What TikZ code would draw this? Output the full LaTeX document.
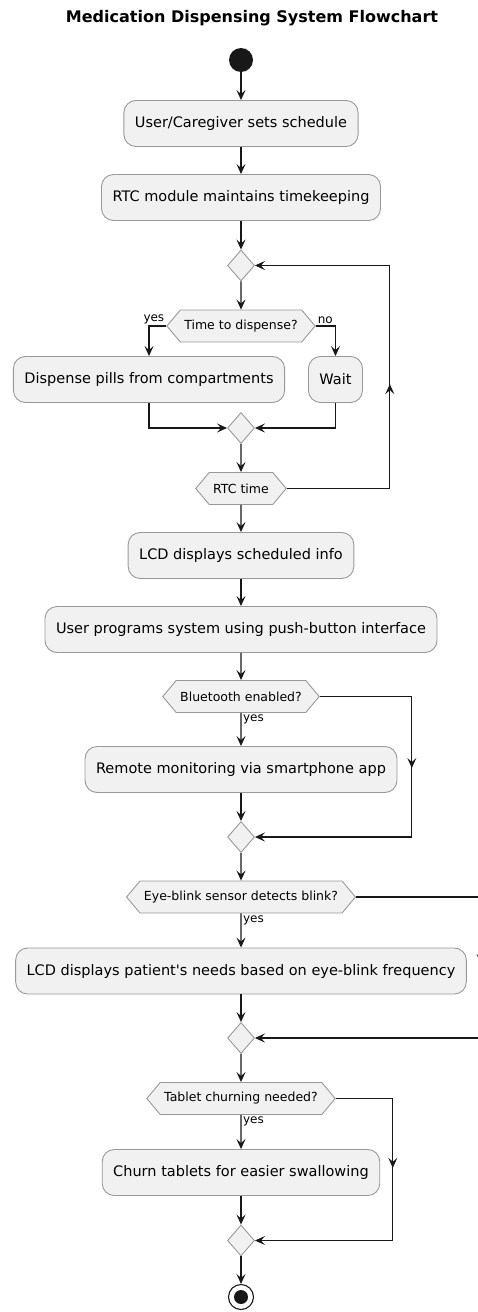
\documentclass[tikz,border=0pt]{standalone}
\usepackage{fontspec}
\setmainfont{DejaVu Sans}
\usetikzlibrary{shapes.geometric, shapes.symbols, arrows.meta, positioning, decorations.markings}
\definecolor{linec}{HTML}{181818}
\definecolor{boxfill}{HTML}{F1F1F1}
\definecolor{boxline}{HTML}{999999}
\tikzstyle{action} = [rectangle, rounded corners=12pt, minimum height=46pt, inner xsep=11pt, text centered, draw=boxline, line width=0.9pt, fill=boxfill, font=\fontsize{14.5}{17}\selectfont]
\tikzstyle{decision} = [signal, signal to=west and east, signal pointer angle=100, minimum height=32pt, inner xsep=4pt, draw=boxline, line width=0.9pt, fill=boxfill, font=\fontsize{12.5}{15}\selectfont]
\tikzstyle{merge} = [diamond, minimum width=27pt, minimum height=31pt, inner sep=0pt, draw=boxline, line width=0.9pt, fill=boxfill]
\tikzstyle{arrow} = [line width=1.1pt, draw=linec, -{Stealth[length=10pt, width=9pt, inset=4pt]}]
\tikzstyle{lbl} = [font=\fontsize{12}{14}\selectfont, inner sep=1.5pt]
\tikzset{midarrow/.style={postaction={decorate}, decoration={markings, mark=at position #1 with {\arrow{Stealth[length=10pt, width=9pt, inset=4pt]}}}}}

\begin{document}
\begin{tikzpicture}[x=1pt, y=-1pt]
    \useasboundingbox (0,0) rectangle (478,1312);
    \node (title) [font=\fontsize{16}{19}\selectfont\bfseries] at (252,18) {Medication Dispensing System Flowchart};
    \node (start) [circle, fill=linec, minimum size=24pt, inner sep=0pt] at (241,60) {};

    \node (sched) [action] at (241,123.5) {User/Caregiver sets schedule};
    \node (rtcmod) [action] at (241,197.5) {RTC module maintains timekeeping};
    \node (loop1) [merge] at (241,265.5) {};
    \node (timeq) [decision] at (241,326) {Time to dispense?};
    \node (dispense) [action] at (149,379.5) {Dispense pills from compartments};
    \node (wait) [action, right=23pt of dispense] {Wait};
    \node (join1) [merge] at (241,428) {};
    \node (rtctime) [decision] at (241,488.5) {RTC time};
    \node (lcdinfo) [action] at (241,555.5) {LCD displays scheduled info};
    \node (prog) [action] at (241,629.5) {User programs system using push-button interface};
    \node (btq) [decision] at (241,696.5) {Bluetooth enabled?};
    \node (remote) [action] at (241,769.5) {Remote monitoring via smartphone app};
    \node (join2) [merge] at (241,837) {};
    \node (blinkq) [decision] at (241,897) {Eye-blink sensor detects blink?};
    \node (lcdneeds) [action] at (241,971) {LCD displays patient\textquotesingle s needs based on eye-blink frequency};
    \node (join3) [merge] at (241,1038) {};
    \node (churnq) [decision] at (241,1098.5) {Tablet churning needed?};
    \node (churn) [action] at (241,1172.5) {Churn tablets for easier swallowing};
    \node (join4) [merge] at (241,1240.5) {};
    \node (stop) [circle, draw=linec, line width=1.1pt, minimum size=25pt, inner sep=0pt] at (241,1297) {};
    \fill[linec] (stop.center) circle (7pt);

    \draw [arrow] (start) -- (sched);
    \draw [arrow] (sched) -- (rtcmod);
    \draw [arrow] (rtcmod) -- (loop1);
    \draw [arrow] (loop1) -- (timeq);
    \draw [arrow] (timeq.west) -| (dispense.north) node [lbl, pos=0, anchor=south east] {yes};
    \draw [arrow] (timeq.east) -| (wait.north) node [lbl, pos=0, anchor=south west] {no};
    \draw [arrow] (dispense.south) |- (join1.west);
    \draw [arrow] (wait.south) |- (join1.east);
    \draw [arrow] (join1) -- (rtctime);
    \draw [arrow, midarrow=0.45] (rtctime.east) -- ++(103,0) |- (loop1.east);
    \draw [arrow] (rtctime) -- (lcdinfo);
    \draw [arrow] (lcdinfo) -- (prog);
    \draw [arrow] (prog) -- (btq);
    \draw [arrow] (btq) -- (remote) node [lbl, pos=0, anchor=north west] {yes};
    \draw [arrow, midarrow=0.42] (btq.east) -- ++(92,0) |- (join2.east);
    \draw [arrow] (remote) -- (join2);
    \draw [arrow] (join2) -- (blinkq);
    \draw [arrow] (blinkq) -- (lcdneeds) node [lbl, pos=0, anchor=north west] {yes};
    \draw [arrow, midarrow=0.39] (blinkq.east) -- ++(125,0) |- (join3.east);
    \draw [arrow] (lcdneeds) -- (join3);
    \draw [arrow] (join3) -- (churnq);
    \draw [arrow] (churnq) -- (churn) node [lbl, pos=0, anchor=north west] {yes};
    \draw [arrow, midarrow=0.375] (churnq.east) -- ++(57,0) |- (join4.east);
    \draw [arrow] (churn) -- (join4);
    \draw [arrow] (join4) -- (stop);
\end{tikzpicture}
\end{document}
